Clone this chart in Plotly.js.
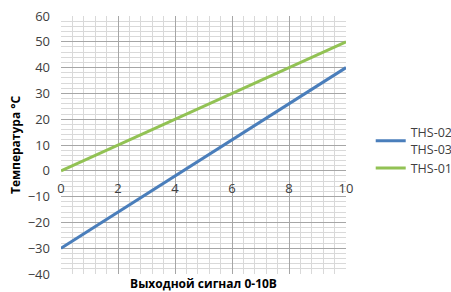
<!DOCTYPE html>
<html>
<head>
<meta charset="utf-8">
<script src="https://cdn.plot.ly/plotly-3.0.1.min.js"></script>
<style>html,body{margin:0;padding:0;background:#fff;}#chart{width:451px;height:292px;}</style>
</head>
<body>
<div id="chart"></div>
<script>
const signalV = [0, 10];
const tempTHS0203 = [-30, 40];
const tempTHS01 = [0, 50];
const seriesNames = ['THS-02<br>THS-03', 'THS-01'];
const xTitle = 'Выходной сигнал 0-10В';
const yTitle = 'Температура °C';

const font = "'Open Sans', 'Noto Sans', sans-serif";
const traces = [
  {x: signalV, y: tempTHS0203, name: seriesNames[0], mode: 'lines', line: {color: '#4A7EBB', width: 3}},
  {x: signalV, y: tempTHS01, name: seriesNames[1], mode: 'lines', line: {color: '#92C254', width: 3}}
];
const layout = {
  width: 451, height: 292,
  margin: {l: 61, r: 105, t: 16, b: 18},
  paper_bgcolor: '#fff', plot_bgcolor: '#fff',
  font: {family: font, size: 12, color: '#404040'},
  showlegend: true,
  legend: {xref: 'container', yref: 'container', x: 0.822, xanchor: 'left', y: 0.485, yanchor: 'middle',
           font: {size: 12.5, color: '#404040'},
           tracegroupgap: 6, itemwidth: 30, borderwidth: 0, bgcolor: 'rgba(0,0,0,0)'},
  xaxis: {
    range: [0, 10], dtick: 2, tick0: 0, anchor: 'free', position: 0.4,
    showgrid: true, gridcolor: '#a6a6a6', gridwidth: 1, zeroline: false,
    minor: {dtick: 0.4, showgrid: true, gridcolor: '#d9d9d9', gridwidth: 1},
    ticks: '', ticklabelstandoff: 8, tickfont: {size: 13, color: '#404040'},
    showline: false, automargin: false,
    title: {text: '<b>' + xTitle + '</b>', font: {size: 12, color: '#000'}, standoff: 86}
  },
  yaxis: {
    range: [-40, 60], dtick: 10, tick0: 0,
    showgrid: true, gridcolor: '#a6a6a6', gridwidth: 1, zeroline: false,
    minor: {dtick: 2, showgrid: true, gridcolor: '#d9d9d9', gridwidth: 1},
    ticks: '', ticklabelstandoff: 10, tickfont: {size: 13, color: '#404040'},
    showline: false, automargin: false,
    title: {text: '<b>' + yTitle + '</b>', font: {size: 12, color: '#000'}, standoff: 4}
  }
};
Plotly.newPlot('chart', traces, layout, {staticPlot: true, displayModeBar: false});
</script>
</body>
</html>
